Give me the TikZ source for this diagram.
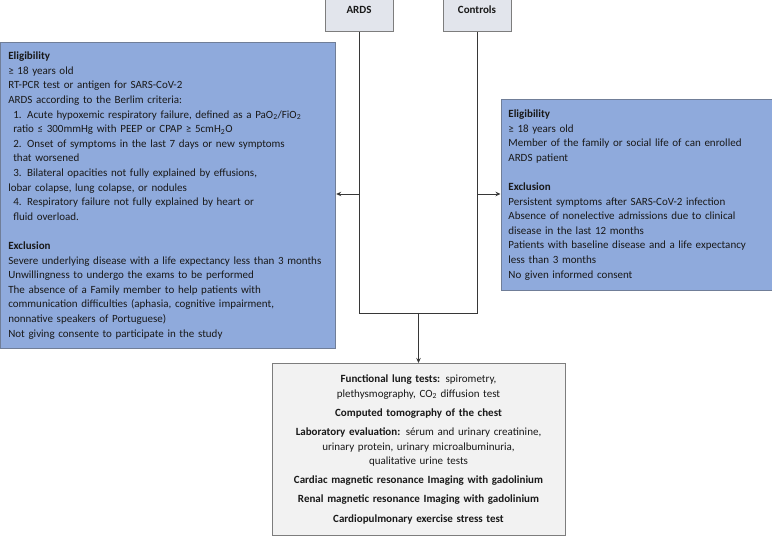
\documentclass[tikz,border=0pt]{standalone}
\usepackage{fontspec}
\setmainfont{Carlito}
\usetikzlibrary{arrows.meta}
\definecolor{bluefill}{RGB}{143,170,220}
\definecolor{blueedge}{RGB}{112,126,152}
\definecolor{topfill}{RGB}{226,229,236}
\definecolor{grayedge}{RGB}{125,125,125}
\definecolor{botfill}{RGB}{242,242,242}
\definecolor{txtcol}{RGB}{25,25,25}
\definecolor{linecol}{RGB}{55,55,55}
\tikzset{
  boxfont/.style={font=\fontsize{11}{14.6}\selectfont, text=txtcol},
  groupbox/.style={draw=grayedge, fill=topfill, line width=0.8pt, minimum width=68pt, minimum height=40pt, boxfont, font=\fontsize{11}{14.6}\selectfont\bfseries},
  bluebox/.style={draw=blueedge, fill=bluefill, line width=0.8pt, boxfont, align=left, inner xsep=7.5pt, inner ysep=0pt},
  exambox/.style={draw=grayedge, fill=botfill, line width=0.8pt, boxfont, align=center, inner xsep=4pt, inner ysep=0pt},
  conn/.style={draw=linecol, line width=0.8pt},
  arr/.style={conn, -{Stealth[length=5pt,width=4.5pt]}}
}
\newcommand{\ind}{\hspace*{5pt}}
\begin{document}
\begin{tikzpicture}[x=1pt,y=1pt]
\useasboundingbox (0,0) rectangle (772,536);
% top group boxes
\node[groupbox, anchor=south] (ards) at (359,504) {\raisebox{4pt}{ARDS}};
\node[groupbox, anchor=south] (ctrl) at (477,504) {\raisebox{4pt}{Controls}};
% left box
\node[bluebox, text width=320pt, minimum height=306pt, anchor=north west] (ardsbox) at (0.4,494) {%
\textbf{Eligibility}\\
≥ 18 years old\\
RT-PCR test or antigen for SARS-CoV-2\\
ARDS according to the Berlim criteria:\\
\ind 1. Acute hypoxemic respiratory failure, defined as a PaO\textsubscript{2}/FiO\textsubscript{2}\\
\ind ratio ≤ 300mmHg with PEEP or CPAP ≥ 5cmH\textsubscript{2}O\\
\ind 2. Onset of symptoms in the last 7 days or new symptoms\\
\ind that worsened\\
\ind 3. Bilateral opacities not fully explained by effusions,\\
lobar colapse, lung colapse, or nodules\\
\ind 4. Respiratory failure not fully explained by heart or\\
\ind fluid overload.\\
\mbox{}\\
\textbf{Exclusion}\\
Severe underlying disease with a life expectancy less than 3 months\\
Unwillingness to undergo the exams to be performed\\
The absence of a Family member to help patients with\\
communication difficulties (aphasia, cognitive impairment,\\
nonnative speakers of Portuguese)\\
Not giving consente to participate in the study};
% right box
\node[bluebox, text width=256pt, minimum height=191pt, anchor=north west] (ctrlbox) at (500.5,437) {%
\textbf{Eligibility}\\
≥ 18 years old\\
Member of the family or social life of can enrolled\\
ARDS patient\\
\mbox{}\\
\textbf{Exclusion}\\
Persistent symptoms after SARS-CoV-2 infection\\
Absence of nonelective admissions due to clinical\\
disease in the last 12 months\\
Patients with baseline disease and a life expectancy\\
less than 3 months\\
No given informed consent};
% bottom box
\node[exambox, text width=285pt, minimum height=172pt, anchor=north] (exams) at (418.5,173) {%
\textbf{Functional lung tests:} spirometry,\\
plethysmography, CO\textsubscript{2} diffusion test\\[4.5pt]
\textbf{Computed tomography of the chest}\\[4.5pt]
\textbf{Laboratory evaluation:} sérum and urinary creatinine,\\
urinary protein, urinary microalbuminuria,\\
qualitative urine tests\\[4.5pt]
\textbf{Cardiac magnetic resonance Imaging with gadolinium}\\[4.5pt]
\textbf{Renal magnetic resonance Imaging with gadolinium}\\[4.5pt]
\textbf{Cardiopulmonary exercise stress test}};
% connectors
\coordinate (jl) at (359,223);
\coordinate (jr) at (477,223);
\coordinate (jm) at (418.5,223);
\coordinate (al) at (359,342);
\coordinate (ar) at (477,342);
\draw[conn] (ards.south) -- (jl) -- (jr) -- (ctrl.south);
\draw[arr] (jm) -- (exams.north);
\draw[arr] (al) -- (al -| ardsbox.east);
\draw[arr] (ar) -- (ar -| ctrlbox.west);
\end{tikzpicture}
\end{document}
